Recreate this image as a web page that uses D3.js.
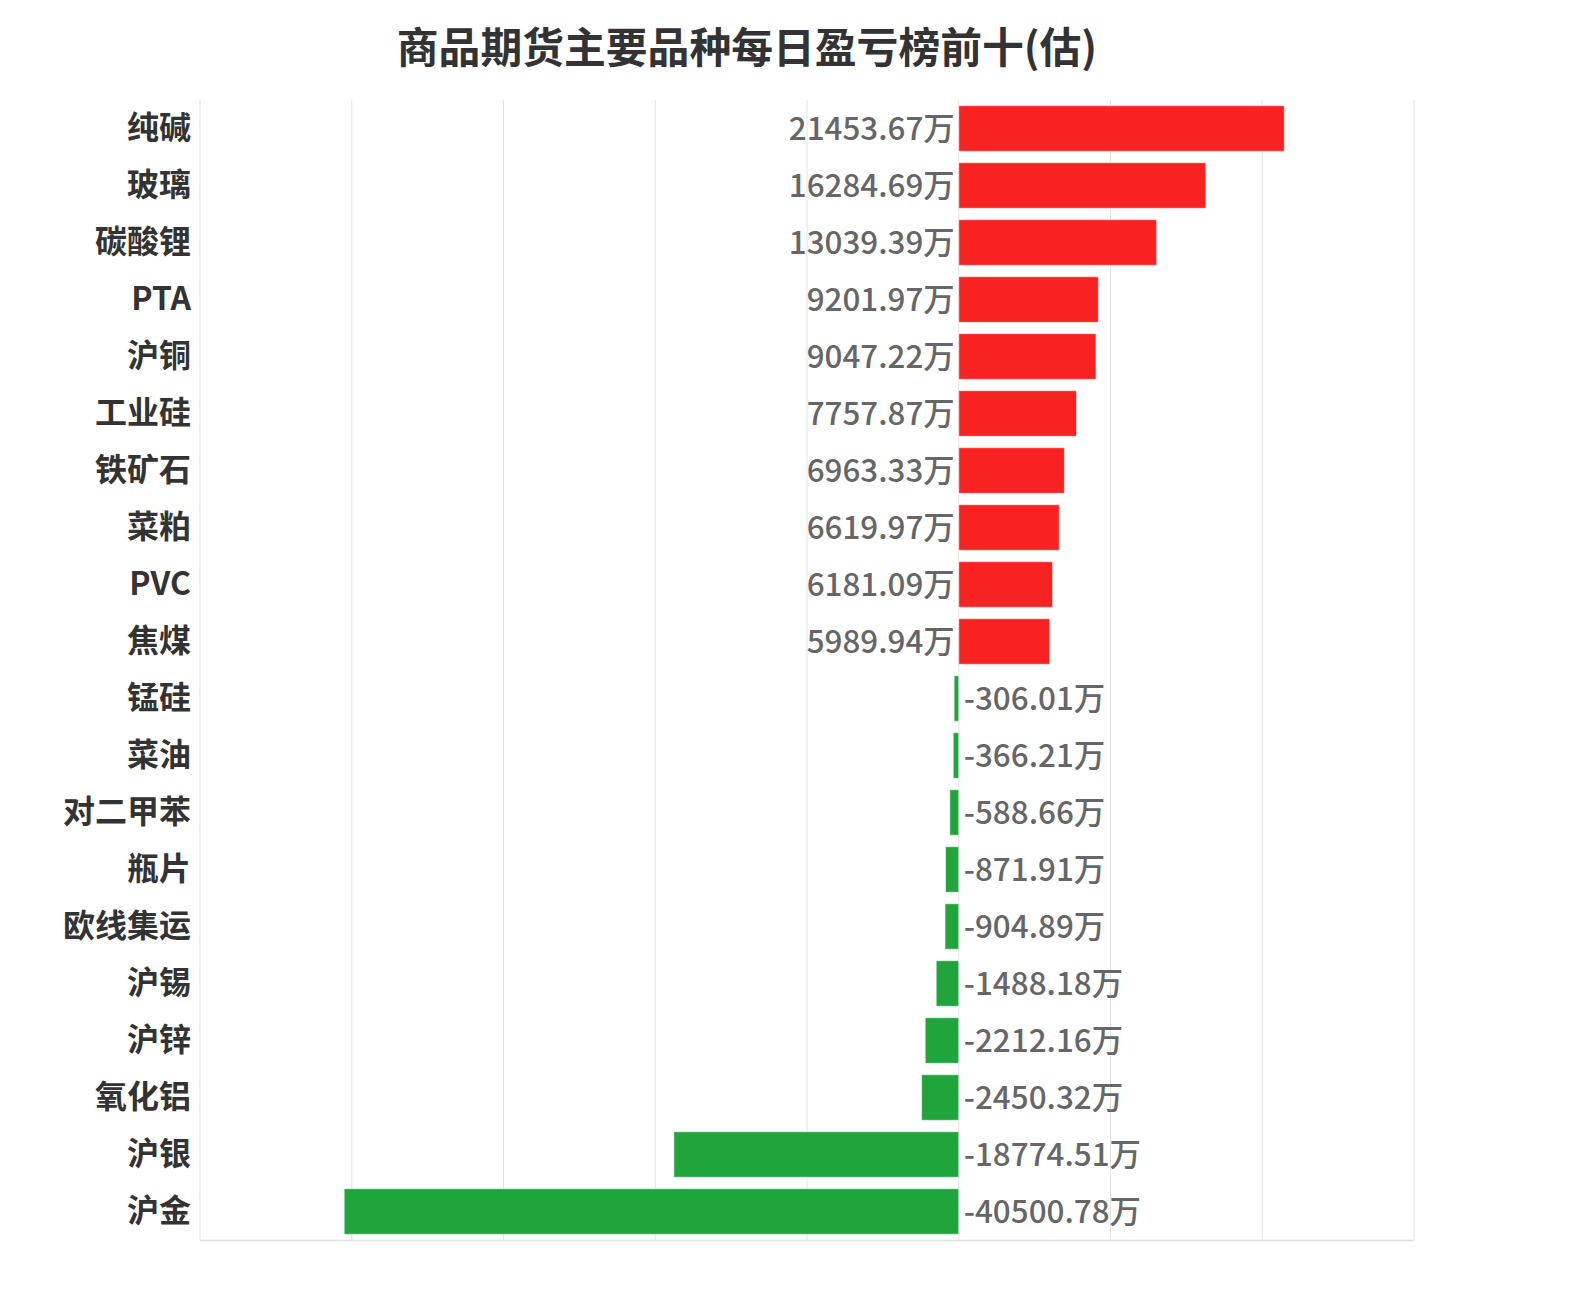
<!DOCTYPE html>
<html>
<head>
<meta charset="utf-8">
<script src="https://cdn.jsdelivr.net/npm/d3@7"></script>
<style>
  body { margin: 0; background: #fff; }
  svg { display: block; font-family: "Noto Sans CJK SC", "Noto Sans", sans-serif; }
</style>
</head>
<body>
<div id="chart"></div>
<script>
// 数据
const categories = ['纯碱', '玻璃', '碳酸锂', 'PTA', '沪铜', '工业硅', '铁矿石', '菜粕', 'PVC', '焦煤',
  '锰硅', '菜油', '对二甲苯', '瓶片', '欧线集运', '沪锡', '沪锌', '氧化铝', '沪银', '沪金'];
const values = [21453.67, 16284.69, 13039.39, 9201.97, 9047.22, 7757.87, 6963.33, 6619.97, 6181.09, 5989.94,
  -306.01, -366.21, -588.66, -871.91, -904.89, -1488.18, -2212.16, -2450.32, -18774.51, -40500.78];
const xTicks = [-50000, -40000, -30000, -20000, -10000, 0, 10000, 20000, 30000];

const width = 1572, height = 1300;
const margin = { top: 100, right: 158, bottom: 60, left: 200 };

const svg = d3.select('#chart').append('svg')
  .attr('width', width)
  .attr('height', height);

const x = d3.scaleLinear()
  .domain([-50000, 30000])
  .range([margin.left, width - margin.right]);

const y = d3.scaleBand()
  .domain(categories)
  .range([margin.top, height - margin.bottom])
  .paddingInner(0.2)
  .paddingOuter(0.1);

// 网格线
svg.append('g')
  .selectAll('line')
  .data(xTicks)
  .enter().append('line')
  .attr('x1', d => x(d)).attr('x2', d => x(d))
  .attr('y1', margin.top).attr('y2', height - margin.bottom)
  .attr('stroke', '#e3e3e3')
  .attr('stroke-width', 1);

// 底部轴线
svg.append('line')
  .attr('x1', margin.left).attr('x2', width - margin.right)
  .attr('y1', height - margin.bottom + 0.5).attr('y2', height - margin.bottom + 0.5)
  .attr('stroke', '#e0e0e0')
  .attr('stroke-width', 1.5);

// 柱子
svg.append('g')
  .selectAll('rect')
  .data(values)
  .enter().append('rect')
  .attr('x', d => x(Math.min(0, d)))
  .attr('y', (d, i) => y(categories[i]))
  .attr('width', d => Math.abs(x(d) - x(0)))
  .attr('height', y.bandwidth())
  .attr('fill', d => d >= 0 ? '#f82222' : '#20a43c')
  .attr('stroke', 'rgba(255,255,255,0.6)')
  .attr('stroke-width', 1);

// 数值标签
svg.append('g')
  .selectAll('text')
  .data(values)
  .enter().append('text')
  .attr('x', d => d >= 0 ? x(0) - 4 : x(0) + 5)
  .attr('y', (d, i) => y(categories[i]) + y.bandwidth() / 2)
  .attr('dy', '0.36em')
  .attr('text-anchor', d => d >= 0 ? 'end' : 'start')
  .attr('fill', '#666')
  .style('font-size', '31.4px')
  .style('font-weight', '500')
  .text(d => d.toFixed(2) + '万');

// 品种标签
svg.append('g')
  .selectAll('text')
  .data(categories)
  .enter().append('text')
  .attr('x', margin.left - 9)
  .attr('y', d => y(d) + y.bandwidth() / 2)
  .attr('dy', '0.34em')
  .attr('text-anchor', 'end')
  .attr('fill', '#333')
  .style('font-size', '32px')
  .style('font-weight', 'bold')
  .text(d => d);

// 标题
svg.append('text')
  .attr('x', 747)
  .attr('y', 48)
  .attr('dy', '0.36em')
  .attr('text-anchor', 'middle')
  .attr('fill', '#333')
  .style('font-size', '41.8px')
  .style('font-weight', 'bold')
  .text('商品期货主要品种每日盈亏榜前十(估)');
</script>
</body>
</html>
